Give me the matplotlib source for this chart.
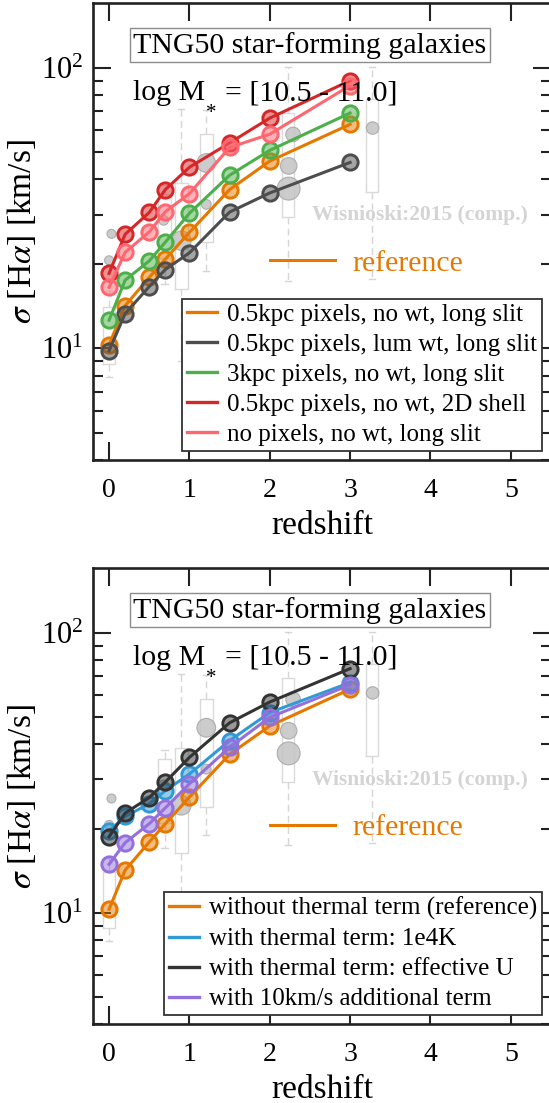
import numpy as np
import matplotlib
matplotlib.use('Agg')
import matplotlib.pyplot as plt
from matplotlib.lines import Line2D
from matplotlib.ticker import NullFormatter, FixedLocator

plt.rcParams['font.family'] = 'Liberation Serif'
plt.rcParams['mathtext.fontset'] = 'stix'

# redshift snapshots
redshift = [0.0, 0.2, 0.5, 0.7, 1.0, 1.5, 2.0, 3.0]

# sigma(Halpha) [km/s], top panel: pixel size / weighting / geometry
sig_ref = [10.3, 14.2, 17.9, 20.8, 25.9, 36.8, 46.5, 62.9]
sig_lumwt = [9.8, 13.3, 16.6, 19.1, 21.9, 30.6, 35.8, 46.0]
sig_3kpc = [12.6, 17.5, 20.5, 23.9, 30.3, 41.4, 50.8, 69.0]
sig_shell = [18.5, 25.5, 30.5, 36.8, 44.2, 54.0, 66.2, 90.0]
sig_nopix = [16.5, 22.0, 26.0, 30.7, 35.6, 52.0, 58.0, 86.5]

# bottom panel: thermal broadening variants
sig_1e4k = [19.6, 22.1, 24.5, 27.3, 31.3, 41.2, 51.9, 66.4]
sig_effu = [18.7, 22.7, 25.8, 29.3, 35.9, 47.7, 56.6, 74.5]
sig_add10 = [14.9, 17.8, 20.8, 23.7, 28.9, 39.0, 49.9, 65.2]

top_labels = ['0.5kpc pixels, no wt, long slit',
              '0.5kpc pixels, lum wt, long slit',
              '3kpc pixels, no wt, long slit',
              '0.5kpc pixels, no wt, 2D shell',
              'no pixels, no wt, long slit']
bot_labels = ['without thermal term (reference)',
              'with thermal term: 1e4K',
              'with thermal term: effective U',
              'with 10km/s additional term']

# Wisnioski+2015 compilation: box summaries
wis_box_z = [0.0, 0.69, 0.9, 1.21, 2.23, 3.27]
wis_box_lo = [7.9, 17.0, 9.0, 18.9, 17.4, 17.7]
wis_box_q1 = [8.8, 21.0, 16.3, 23.9, 29.4, 36.2]
wis_box_q3 = [14.0, 35.4, 38.7, 58.1, 69.0, 77.5]
wis_box_hi = [16.0, 38.1, 71.5, 70.8, 101.0, 101.0]

# individual survey points (symbol size ~ sample size)
wis_z = [0.03, 0.0, 0.68, 0.9, 1.21, 1.21, 2.235, 2.235, 2.29, 3.28]
wis_sig = [25.6, 20.6, 28.6, 24.2, 45.8, 32.6, 44.7, 37.1, 57.9, 61.0]
wis_size = [6.5, 6.5, 7, 14, 13.5, 7, 12, 16.5, 10.5, 9]

ORANGE = '#e67800'
top_colors = [ORANGE, '#4d4d4d', '#4caf4a', '#d62728', '#ff6670']
bot_colors = [ORANGE, '#2f9ad6', '#333333', '#9370db']


def draw_panel(ax, series, labels, colors):
    stats = []
    for i in range(len(wis_box_z)):
        stats.append(dict(med=wis_box_q1[i], q1=wis_box_q1[i], q3=wis_box_q3[i],
                          whislo=wis_box_lo[i], whishi=wis_box_hi[i], fliers=[]))
    ax.bxp(stats, positions=wis_box_z, widths=0.155, manage_ticks=False,
           boxprops=dict(color='#dadada', lw=1),
           whiskerprops=dict(color='#d6d6d6', lw=1, ls=(0, (5, 3))),
           capprops=dict(color='#d6d6d6', lw=1),
           medianprops=dict(lw=0), zorder=1)
    ax.scatter(wis_z, wis_sig, s=np.array(wis_size) ** 2, fc='#c4c4c4',
               ec='#a5a5a5', lw=0.8, alpha=0.85, zorder=2)
    ax.text(0.714, 0.536, 'Wisnioski:2015 (comp.)', transform=ax.transAxes,
            ha='center', va='center', fontsize=15.5, fontweight='bold',
            color='#d4d4d4', zorder=2)

    for ys, c in zip(series, colors):
        ax.plot(redshift, ys, '-o', color=c, lw=2.2, ms=11, mew=2.1,
                mfc=matplotlib.colors.to_rgba(c, 0.5), mec=c, zorder=3)

    ax.set_yscale('log')
    ax.set_xlim(-0.2, 5.5)
    ax.set_ylim(4, 170)
    ax.xaxis.set_major_locator(FixedLocator([0, 1, 2, 3, 4, 5]))
    ax.yaxis.set_minor_formatter(NullFormatter())
    ax.tick_params(which='both', direction='in', top=True, right=True,
                   width=1.5, color='#222222')
    ax.tick_params(which='major', length=13)
    ax.tick_params(which='minor', length=7)
    ax.tick_params(axis='x', labelsize=20, pad=13)
    ax.tick_params(axis='y', labelsize=22, pad=7)
    for sp in ax.spines.values():
        sp.set_linewidth(1.9)
        sp.set_color('#222222')

    ax.set_xlabel('redshift', fontsize=24)
    ax.set_ylabel(r'$\sigma$ [H$\alpha$] [km/s]', fontsize=24)
    ax.xaxis.set_label_coords(0.5, -0.11)
    ax.yaxis.set_label_coords(-0.12, 0.5)

    ax.text(0.474, 0.9076, 'TNG50 star-forming galaxies', transform=ax.transAxes,
            ha='center', va='center', fontsize=21.5, zorder=6,
            bbox=dict(boxstyle='square,pad=0.12', fc='white', ec='#8c8c8c', lw=1))
    # stellar mass bin, with a lowered asterisk after M
    t_mass = ax.text(0.087, 0.788, 'log M', transform=ax.transAxes,
                     ha='left', va='baseline', fontsize=21.5, zorder=6)
    ax.annotate('*', xy=(1, 0), xycoords=t_mass, xytext=(0.5, -12),
                textcoords='offset points', ha='left', va='bottom',
                fontsize=15, zorder=6)
    ax.annotate('= [10.5 - 11.0]', xy=(1, 0), xycoords=t_mass, xytext=(14.5, 0),
                textcoords='offset points', ha='left', va='bottom',
                fontsize=21.5, zorder=6)

    leg_ref = ax.legend([Line2D([], [], color=ORANGE, lw=2.2)], ['reference'],
                        loc='center left', bbox_to_anchor=(0.386, 0.431),
                        frameon=False, fontsize=21.5, handlelength=2.2,
                        handletextpad=0.55, borderpad=0, borderaxespad=0,
                        labelcolor=ORANGE)
    ax.add_artist(leg_ref)

    handles = [Line2D([], [], color=c, lw=2.4) for c in colors]
    leg = ax.legend(handles, labels, loc='lower right', fontsize=18,
                    fancybox=False, edgecolor='#333333', framealpha=1,
                    handlelength=1.2, handletextpad=0.4, borderpad=0.2,
                    labelspacing=0.3, borderaxespad=0.35)
    leg.get_frame().set_linewidth(1.3)


fig = plt.figure(figsize=(5.49, 11.03), dpi=100)
ax1 = fig.add_axes([0.1694, 0.5830, 0.8342, 0.4141])
ax2 = fig.add_axes([0.1694, 0.0714, 0.8342, 0.4134])

draw_panel(ax1, [sig_ref, sig_lumwt, sig_3kpc, sig_shell, sig_nopix],
           top_labels, top_colors)
draw_panel(ax2, [sig_ref, sig_1e4k, sig_effu, sig_add10],
           bot_labels, bot_colors)

fig.savefig('out.png', dpi=100)
